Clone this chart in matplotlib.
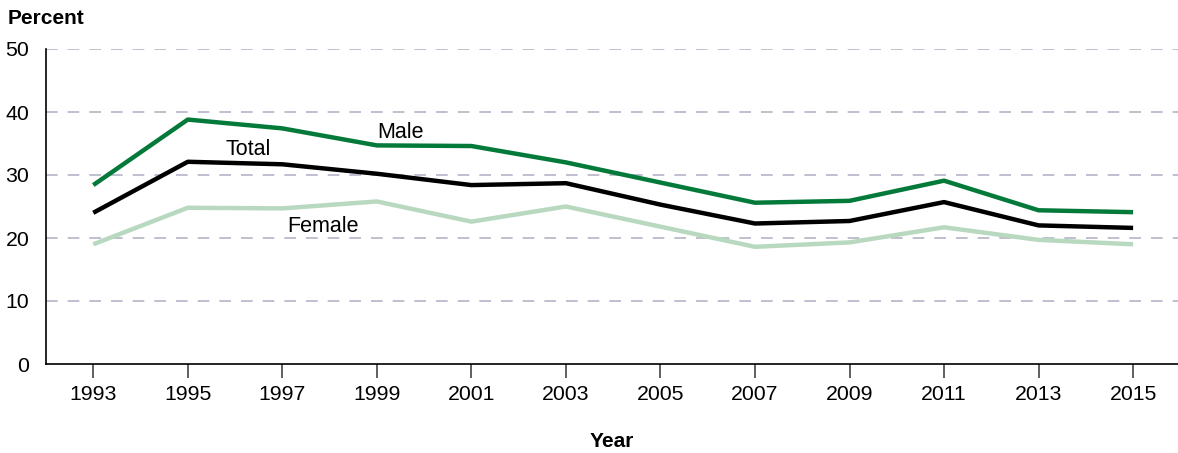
import matplotlib.pyplot as plt

plt.rcParams['font.family'] = ['Liberation Sans', 'DejaVu Sans']

years = [1993, 1995, 1997, 1999, 2001, 2003, 2005, 2007, 2009, 2011, 2013, 2015]
male = [28.4, 38.8, 37.4, 34.7, 34.6, 32.0, 28.8, 25.6, 25.9, 29.1, 24.4, 24.1]
total = [24.0, 32.1, 31.7, 30.2, 28.4, 28.7, 25.3, 22.3, 22.7, 25.7, 22.0, 21.6]
female = [19.0, 24.8, 24.7, 25.8, 22.6, 25.0, 21.8, 18.6, 19.3, 21.7, 19.7, 19.0]

male_color = '#047a3a'
female_color = '#b8d9c0'
grid_color = '#b4b4c8'

fig = plt.figure(figsize=(11.78, 4.53), dpi=100)
ax = fig.add_axes([46 / 1178, 1 - 364 / 453, 1 - 46 / 1178, (364 - 49) / 453])

# gridlines
for v in [10, 20, 30, 40, 50]:
    ax.axhline(v, color=grid_color, linestyle=(0, (7, 6)), linewidth=1.2, zorder=1)

ax.plot(years, female, color=female_color, linewidth=3.2, solid_capstyle='butt', zorder=3)
ax.plot(years, total, color='black', linewidth=3.2, solid_capstyle='butt', zorder=4)
ax.plot(years, male, color=male_color, linewidth=3.2, solid_capstyle='butt', zorder=5)

# series labels
ax.text(1999.0, 36.8, 'Male', fontsize=15.5, ha='left', va='center')
ax.text(1996.27, 34.0, 'Total', fontsize=15.5, ha='center', va='center')
ax.text(1997.86, 21.9, 'Female', fontsize=15.5, ha='center', va='center')

ax.set_xlim(1992, 2015.95)
ax.set_ylim(0, 50)
ax.set_xticks(years)
ax.set_xticklabels([str(y) for y in years])
ax.set_yticks([0, 10, 20, 30, 40, 50])

for s in ['top', 'right']:
    ax.spines[s].set_visible(False)
ax.spines['left'].set_linewidth(1.2)
ax.spines['bottom'].set_linewidth(1.2)

ax.tick_params(axis='x', direction='out', length=10, width=1.2, color='#444444',
               labelsize=15.3, pad=5)
ax.tick_params(axis='y', length=0, labelsize=15.3, pad=12)

ax.set_xlabel('Year', fontsize=15, fontweight='bold', labelpad=20)
fig.text(8 / 1178, 1 - 9 / 453, 'Percent', fontsize=15, fontweight='bold', ha='left', va='top')

fig.savefig('out.png', dpi=100)
